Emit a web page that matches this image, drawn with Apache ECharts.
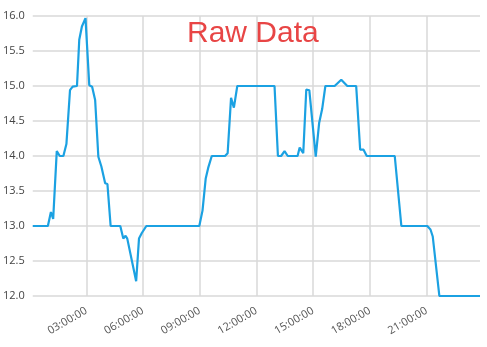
<!DOCTYPE html>
<html>
<head>
<meta charset="utf-8">
<script src="https://cdn.jsdelivr.net/npm/echarts@6/dist/echarts.min.js"></script>
<style>
html,body{margin:0;padding:0;background:#fff;}
#c{width:487px;height:347px;}
</style>
</head>
<body>
<div id="c"></div>
<script>
// time of day in hours
var hours = [0.17, 0.97, 1.13, 1.25, 1.44, 1.6, 1.79, 1.95, 2.14, 2.28, 2.51, 2.63, 2.77, 2.96,
  3.16, 3.31, 3.47, 3.64, 3.8, 4.0, 4.12, 4.29, 4.8, 4.96, 5.08, 5.17, 5.64, 5.79, 5.94, 6.18,
  8.98, 9.15, 9.32, 9.45, 9.64, 10.34, 10.48, 10.66, 10.81, 10.99, 12.96, 13.14, 13.31, 13.49,
  13.66, 14.18, 14.29, 14.48, 14.64, 14.8, 15.14, 15.32, 15.48, 15.65, 16.14, 16.49, 16.81,
  17.28, 17.49, 17.67, 17.84, 19.32, 19.67, 21.04, 21.21, 21.33, 21.68, 23.83];
var values = [13.0, 13.0, 13.2, 13.1, 14.07, 14.0, 14.0, 14.17, 14.94, 14.99, 15.0, 15.66, 15.85, 15.97,
  15.01, 14.99, 14.8, 13.99, 13.85, 13.61, 13.6, 13.0, 13.0, 12.82, 12.86, 12.82, 12.21, 12.82, 12.9, 13.0,
  13.0, 13.22, 13.68, 13.83, 14.0, 14.0, 14.04, 14.83, 14.69, 15.0, 15.0, 14.0, 14.0, 14.07,
  14.0, 14.0, 14.12, 14.04, 14.95, 14.94, 13.99, 14.47, 14.67, 15.0, 15.0, 15.09, 15.0,
  15.0, 14.09, 14.09, 14.0, 14.0, 13.0, 13.0, 12.95, 12.85, 12.0, 12.0];
var xTickHours = [3, 6, 9, 12, 15, 18, 21];
var xMin = 0.17, xMax = 23.83;
var titleText = 'Raw Data';

var data = hours.map(function (h, i) { return [h, values[i]]; });
function fmtHour(v) {
  var h = Math.round(v);
  return (h < 10 ? '0' + h : '' + h) + ':00:00';
}
var chart = echarts.init(document.getElementById('c'), null, {renderer: 'canvas'});
chart.setOption({
  backgroundColor: '#ffffff',
  animation: false,
  title: {
    text: titleText,
    left: 182,
    top: 14,
    textStyle: {color: '#e84545', fontSize: 30, fontWeight: 'normal', fontFamily: 'Liberation Sans, Arial, sans-serif'}
  },
  grid: {left: 29, right: 7, top: 16, bottom: 51, containLabel: false},
  xAxis: {
    type: 'value',
    min: xMin,
    max: xMax,
    axisLine: {show: false},
    axisTick: {show: false, customValues: xTickHours},
    splitLine: {show: true, lineStyle: {color: '#d8d8d8', width: 1.5}},
    axisLabel: {
      customValues: xTickHours,
      rotate: 30,
      margin: 14,
      color: '#555',
      fontSize: 11,
      fontFamily: 'Open Sans, sans-serif',
      formatter: fmtHour
    }
  },
  yAxis: {
    type: 'value',
    min: 12,
    max: 16,
    interval: 0.5,
    axisLine: {show: false},
    axisTick: {show: false},
    splitLine: {show: true, lineStyle: {color: '#d8d8d8', width: 1.5}},
    axisLabel: {
      color: '#444',
      fontSize: 11,
      margin: 8,
      fontFamily: 'Open Sans, sans-serif',
      formatter: function (v) { return v.toFixed(1); }
    }
  },
  series: [{
    type: 'line',
    data: data,
    showSymbol: false,
    symbol: 'none',
    lineStyle: {color: '#1ba1e2', width: 2.2},
    itemStyle: {color: '#1ba1e2'}
  }]
});
</script>
</body>
</html>
